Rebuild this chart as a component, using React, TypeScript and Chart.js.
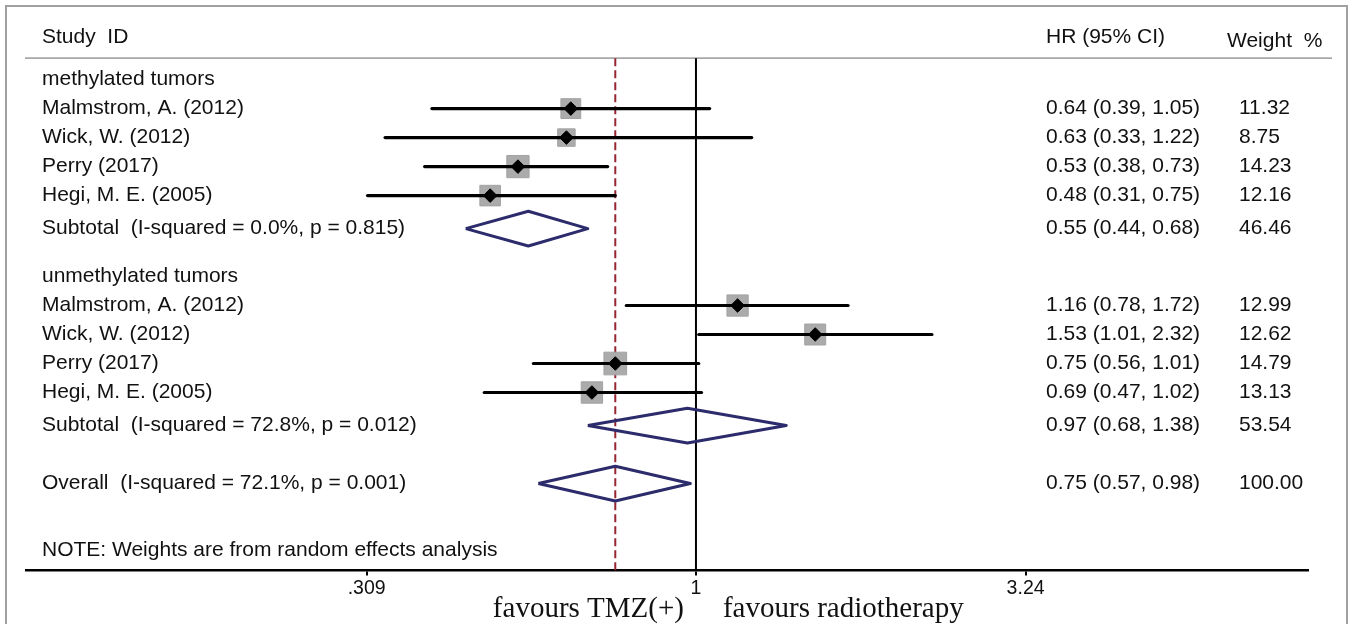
import React, { useEffect, useRef } from "react";
import { Chart, registerables } from "chart.js";

Chart.register(...registerables);

// ---------- data ----------
const groupNames = ["methylated tumors", "unmethylated tumors"];
const studyLabels = ["Malmstrom, A. (2012)", "Wick, W. (2012)", "Perry (2017)", "Hegi, M. E. (2005)"];

const methHR = [0.64, 0.63, 0.53, 0.48];
const methLo = [0.39, 0.33, 0.38, 0.31];
const methHi = [1.05, 1.22, 0.73, 0.75];
const methWeight = [11.32, 8.75, 14.23, 12.16];

const unmethHR = [1.16, 1.53, 0.75, 0.69];
const unmethLo = [0.78, 1.01, 0.56, 0.47];
const unmethHi = [1.72, 2.32, 1.01, 1.02];
const unmethWeight = [12.99, 12.62, 14.79, 13.13];

const subtotalHR = [0.55, 0.97];
const subtotalLo = [0.44, 0.68];
const subtotalHi = [0.68, 1.38];
const subtotalWeight = [46.46, 53.54];
const subtotalHet = ["I-squared = 0.0%, p = 0.815", "I-squared = 72.8%, p = 0.012"];

const overallHR = 0.75;
const overallLo = 0.57;
const overallHi = 0.98;
const overallWeight = 100.0;
const overallHet = "I-squared = 72.1%, p = 0.001";

const xTicks = [0.309, 1, 3.24];
const xTickLabels = [".309", "1", "3.24"];
const xRange = [0.0917, 8.87];

const headerStudy = "Study  ID";
const headerHR = "HR (95% CI)";
const headerWeight = "Weight  %";
const noteText = "NOTE: Weights are from random effects analysis";
const favoursLeft = "favours TMZ(+)";
const favoursRight = "favours radiotherapy";

// ---------- layout constants ----------
const W = 1354;
const H = 624;
const ROW_PX = 29;
const ROW_ORIGIN = 10;
const SANS = '"Liberation Sans", Arial, Helvetica, sans-serif';
const SERIF = '"Liberation Serif", "Times New Roman", serif';

type Row = {
  kind: "group" | "study" | "subtotal" | "overall" | "note";
  label: string;
  hr?: number;
  lo?: number;
  hi?: number;
  w?: number;
  pos: number;
};

function buildRows(): Row[] {
  const gaps: Record<string, number> = { group: 1.65, study: 1.0, subtotal: 1.14, overall: 2.0, note: 2.3 };
  const rows: Row[] = [];
  let pos = 2.4;
  const push = (r: Omit<Row, "pos">) => {
    if (rows.length > 0) pos += gaps[r.kind];
    rows.push({ ...r, pos });
  };
  const groups = [
    { hr: methHR, lo: methLo, hi: methHi, w: methWeight },
    { hr: unmethHR, lo: unmethLo, hi: unmethHi, w: unmethWeight },
  ];
  groups.forEach((g, gi) => {
    push({ kind: "group", label: groupNames[gi] });
    studyLabels.forEach((s, i) => push({ kind: "study", label: s, hr: g.hr[i], lo: g.lo[i], hi: g.hi[i], w: g.w[i] }));
    push({
      kind: "subtotal",
      label: `Subtotal  (${subtotalHet[gi]})`,
      hr: subtotalHR[gi],
      lo: subtotalLo[gi],
      hi: subtotalHi[gi],
      w: subtotalWeight[gi],
    });
  });
  push({ kind: "overall", label: `Overall  (${overallHet})`, hr: overallHR, lo: overallLo, hi: overallHi, w: overallWeight });
  push({ kind: "note", label: noteText });
  return rows;
}

export default function App() {
  const ref = useRef<HTMLCanvasElement>(null);

  useEffect(() => {
    const canvas = ref.current;
    if (!canvas) return;
    const rows = buildRows();
    const studies = rows.filter((r) => r.kind === "study");
    const pooled = rows.filter((r) => r.kind === "subtotal" || r.kind === "overall");
    const yMax = 30;
    const headerRule = 1.66;
    const diamondHalf = 0.6;

    const datasets: any[] = [];
    // dots
    datasets.push({
      type: "scatter",
      data: studies.map((r) => ({ x: r.hr, y: r.pos })),
      pointStyle: "rectRot",
      pointRadius: 6.8,
      backgroundColor: "#000",
      borderColor: "#000",
      borderWidth: 1,
      order: 0,
    });
    // CI lines
    studies.forEach((r) => {
      datasets.push({
        type: "scatter",
        showLine: true,
        data: [
          { x: r.lo, y: r.pos },
          { x: r.hi, y: r.pos },
        ],
        borderColor: "#000",
        borderWidth: 3.2,
        borderCapStyle: "round",
        pointRadius: 0,
        order: 1,
      });
    });
    // weight boxes
    datasets.push({
      type: "scatter",
      data: studies.map((r) => ({ x: r.hr, y: r.pos })),
      pointStyle: "rect",
      pointRadius: studies.map((r) => (5.9 * Math.sqrt(r.w || 0)) / Math.SQRT2),
      backgroundColor: "#ababab",
      borderColor: "#a2a2a2",
      borderWidth: 1,
      order: 2,
    });
    // diamonds
    pooled.forEach((r) => {
      datasets.push({
        type: "scatter",
        showLine: true,
        data: [
          { x: r.lo, y: r.pos },
          { x: r.hr, y: r.pos - diamondHalf },
          { x: r.hi, y: r.pos },
          { x: r.hr, y: r.pos + diamondHalf },
          { x: r.lo, y: r.pos },
        ],
        borderColor: "#2c2b6b",
        borderWidth: 3,
        borderJoinStyle: "round",
        pointRadius: 0,
        fill: false,
        order: 1,
      });
    });
    // null line at 1
    datasets.push({
      type: "scatter",
      showLine: true,
      data: [
        { x: 1, y: headerRule },
        { x: 1, y: yMax },
      ],
      borderColor: "#000",
      borderWidth: 2,
      pointRadius: 0,
      order: 3,
    });
    // overall effect dashed line
    datasets.push({
      type: "scatter",
      showLine: true,
      data: [
        { x: overallHR, y: headerRule },
        { x: overallHR, y: yMax },
      ],
      borderColor: "#962530",
      borderWidth: 2,
      borderDash: [8, 4],
      pointRadius: 0,
      order: 3,
    });

    const decor = {
      id: "forestDecor",
      afterLayout(chart: any) {
        // map rows so that one row unit = ROW_PX pixels, starting at ROW_ORIGIN
        const ys = chart.scales.y;
        const a = chart.chartArea;
        ys.min = (a.top - ROW_ORIGIN) / ROW_PX;
        ys.max = (a.bottom - ROW_ORIGIN) / ROW_PX;
        ys.configure();
      },
      beforeDraw(chart: any) {
        const ctx = chart.ctx;
        const ys = chart.scales.y;
        ctx.save();
        ctx.fillStyle = "#fff";
        ctx.fillRect(0, 0, chart.width, chart.height);
        ctx.strokeStyle = "#a0a0a0";
        ctx.lineWidth = 2;
        ctx.strokeRect(6, 6, 1341, chart.height + 20);
        ctx.strokeStyle = "#a8a8a8";
        ctx.lineWidth = 1.6;
        const hy = ys.getPixelForValue(headerRule);
        ctx.beginPath();
        ctx.moveTo(25, hy);
        ctx.lineTo(1332, hy);
        ctx.stroke();
        ctx.restore();
      },
      afterDraw(chart: any) {
        const ctx = chart.ctx;
        const ys = chart.scales.y;
        const xs = chart.scales.x;
        ctx.save();
        ctx.fillStyle = "#111";
        ctx.textBaseline = "middle";
        ctx.textAlign = "left";
        ctx.font = `21px ${SANS}`;
        ctx.fillText(headerStudy, 42, ys.getPixelForValue(0.95));
        ctx.fillText(headerHR, 1046, ys.getPixelForValue(0.95));
        ctx.fillText(headerWeight, 1227, ys.getPixelForValue(1.08));
        rows.forEach((r) => {
          const y = ys.getPixelForValue(r.pos);
          ctx.fillText(r.label, 42, y);
          if (r.hr !== undefined) {
            ctx.fillText(`${r.hr.toFixed(2)} (${r.lo!.toFixed(2)}, ${r.hi!.toFixed(2)})`, 1046, y);
            ctx.fillText(r.w!.toFixed(2), 1239, y);
          }
        });
        // favours labels
        ctx.font = `29px ${SERIF}`;
        ctx.textBaseline = "alphabetic";
        const px1 = xs.getPixelForValue(1);
        ctx.textAlign = "right";
        ctx.fillText(favoursLeft, px1 - 12, 617);
        ctx.textAlign = "left";
        ctx.fillText(favoursRight, px1 + 27, 617);
        ctx.restore();
      },
    };

    const chart = new Chart(canvas, {
      type: "scatter",
      data: { datasets },
      options: {
        animation: false,
        responsive: false,
        devicePixelRatio: 1,
        events: [],
        layout: { padding: { left: 26, right: W - 1308, top: 8, bottom: 21.2 } },
        plugins: { legend: { display: false }, tooltip: { enabled: false } },
        scales: {
          x: {
            type: "logarithmic",
            position: "bottom",
            min: xRange[0],
            max: xRange[1],
            afterBuildTicks: (s: any) => {
              s.ticks = xTicks.map((v) => ({ value: v }));
            },
            ticks: {
              autoSkip: false,
              maxRotation: 0,
              minRotation: 0,
              padding: 2,
              color: "#111",
              font: { family: SANS, size: 19.5 },
              callback: (_v: any, i: number) => xTickLabels[i],
            },
            grid: { drawOnChartArea: false, drawTicks: true, tickLength: 5, color: "#000", lineWidth: 2 },
            border: { display: true, color: "#000", width: 2.6 },
          },
          y: {
            type: "linear",
            display: false,
            reverse: true,
            min: 0,
            max: yMax,
          },
        },
      } as any,
      plugins: [decor],
    });
    return () => chart.destroy();
  }, []);

  return (
    <div style={{ position: "fixed", left: 0, top: 0, width: W, height: H, background: "#fff" }}>
      <canvas ref={ref} width={W} height={H} style={{ display: "block", width: W, height: H }} />
    </div>
  );
}
